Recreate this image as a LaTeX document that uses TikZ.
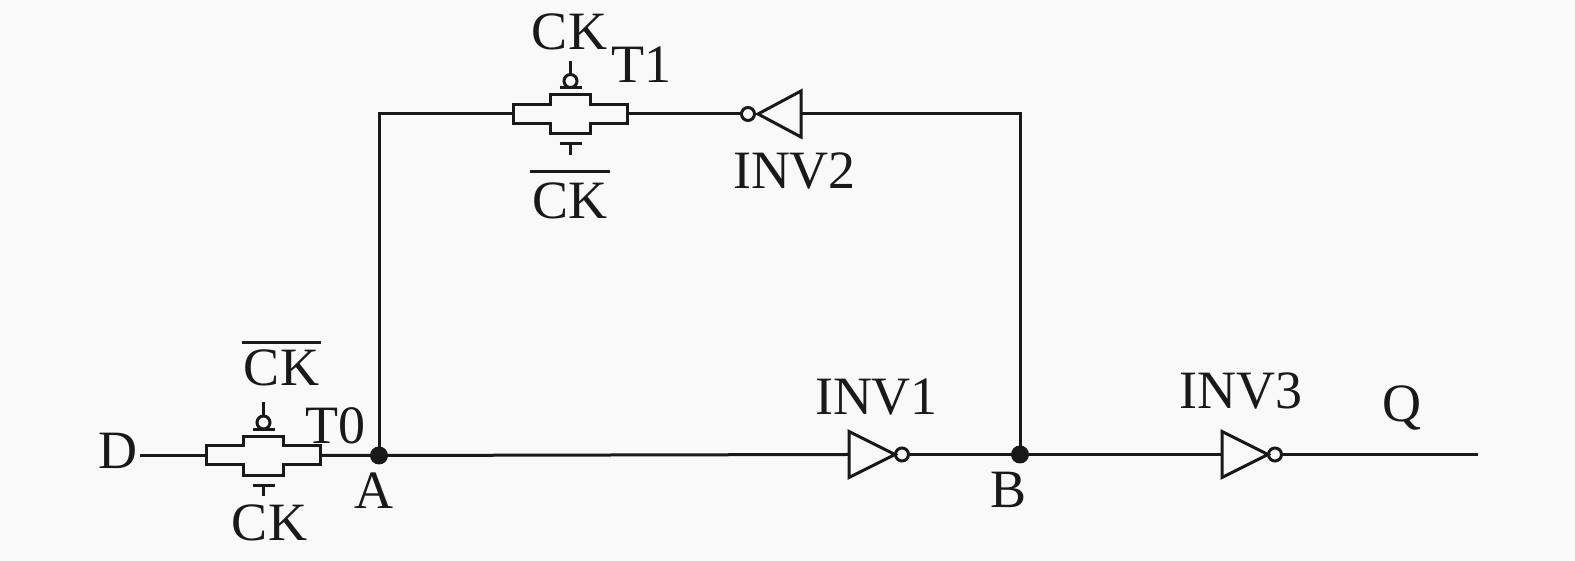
\documentclass[tikz,border=0pt]{standalone}
\usepackage{fontspec}
\setmainfont{Liberation Serif}
\usetikzlibrary{positioning}
\newcommand{\ckbar}[1]{\vbox{\hrule height 1.4pt \vskip #1 \hbox{\kern1pt CK\kern1pt}}}

\begin{document}
\begin{tikzpicture}[
x=0.5pt, y=0.5pt,
wire/.style={line width=1.5pt, black!90},
lbl/.style={inner sep=0pt, anchor=base, text=black!90, font=\fontsize{27}{30}\selectfont},
dot/.style={circle, fill=black!90, inner sep=0pt, minimum size=9pt},
tgate/.pic={
  \draw[wire, line join=miter] (-57,-9.5) -- (-57,9.5) -- (-20,9.5) -- (-20,19) -- (20,19) -- (20,9.5)
    -- (57,9.5) -- (57,-9.5) -- (20,-9.5) -- (20,-20) -- (-20,-20) -- (-20,-9.5) -- cycle;
  \draw[wire] (-11,26) -- (11,26);
  \draw[wire] (0,33) circle (6.5);
  \draw[wire] (0,39.5) -- (0,53);
  \draw[wire] (-11,-30) -- (11,-30);
  \draw[wire] (0,-30) -- (0,-41);
  \coordinate (-in) at (-57,0);
  \coordinate (-out) at (57,0);
},
invr/.pic={
  \draw[wire, line join=miter] (-27,23) -- (-27,-23) -- (19,0) -- cycle;
  \draw[wire] (26,0) circle (6.5);
  \coordinate (-in) at (-27,0);
  \coordinate (-out) at (32.5,0);
},
invl/.pic={
  \draw[wire, line join=miter] (26,23) -- (26,-23) -- (-17,0) -- cycle;
  \draw[wire] (-27,0) circle (6.5);
  \coordinate (-in) at (26,0);
  \coordinate (-out) at (-33.5,0);
}
]

\fill[black!2.5] (0,0) rectangle (1575,561);
\useasboundingbox (0,0) rectangle (1575,561);

\pic (T0) at (263.5,105.5) {tgate};
\pic (T1) at (570.5,447) {tgate};
\pic (INV1) at (876,106.5) {invr};
\pic (INV3) at (1249,106.5) {invr};
\pic (INV2) at (775,447) {invl};

\node[dot] (A) at (379,105.5) {};
\node[dot] (B) at (1020,106.5) {};
\coordinate (Dend) at (140,105.5);
\coordinate (Qend) at (1478,106.5);
\coordinate (topA) at (379,447);
\coordinate (topB) at (1020,447);

\draw[wire] (Dend) -- (T0-in);
\draw[wire] (T0-out) -- (A.center) -- (INV1-in);
\draw[wire] (INV1-out) -- (B.center) -- (INV3-in);
\draw[wire] (INV3-out) -- (Qend);
\draw[wire] (A.center) -- (topA) -- (T1-in);
\draw[wire] (T1-out) -- (INV2-out);
\draw[wire] (INV2-in) -- (topB) -- (B.center);

\node[lbl] (Dlbl) at (117.5,92) {D};
\node[lbl] (T0up) at (281.5,175) {\ckbar{3.2pt}};
\node[lbl] (T0down) at (269.5,20) {CK};
\node[lbl] (T0lbl) at (335,117) {T0};
\node[lbl] (Albl) at (374,52) {A};
\node[lbl] (T1lbl) at (641,478) {T1};
\node[lbl] (T1up) at (569.5,511) {CK};
\node[lbl] (T1down) at (570,342) {\ckbar{5pt}};
\node[lbl] (INV2lbl) at (794.5,372) {INV2};
\node[lbl] (INV1lbl) at (876.5,146) {INV1};
\node[lbl] (Blbl) at (1008,53) {B};
\node[lbl] (INV3lbl) at (1241,152) {INV3};
\node[lbl] (Qlbl) at (1402,139) {Q};
\end{tikzpicture}
\end{document}
